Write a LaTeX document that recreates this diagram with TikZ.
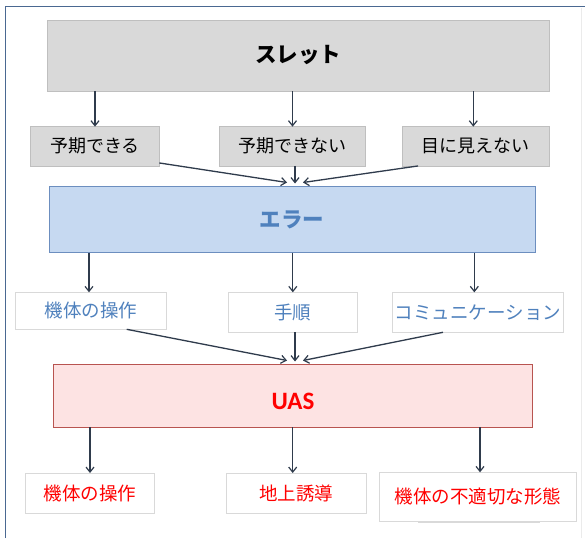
\documentclass[tikz,border=0pt]{standalone}
\usepackage{fontspec}
\setmainfont{Noto Sans CJK JP}
\newfontfamily\latinbold{Carlito}
\usetikzlibrary{arrows.meta,calc}
\definecolor{framec}{RGB}{74,104,145}
\definecolor{greyfill}{RGB}{217,217,217}
\definecolor{greyline}{RGB}{191,191,191}
\definecolor{bluefill}{RGB}{198,217,241}
\definecolor{blueline}{RGB}{108,142,191}
\definecolor{bluetext}{RGB}{79,129,189}
\definecolor{pinkfill}{RGB}{253,227,227}
\definecolor{pinkline}{RGB}{184,84,80}
\definecolor{redtext}{RGB}{255,0,0}
\definecolor{arrc}{RGB}{47,59,76}
\definecolor{boxline}{RGB}{217,217,217}
\begin{document}
\begin{tikzpicture}[x=1pt,y=-1pt,
  every node/.style={inner sep=0pt,outer sep=0pt},
  headbox/.style={draw=greyline,fill=greyfill,line width=0.8pt,font=\fontsize{21.5}{25}\selectfont\bfseries},
  greybox/.style={draw=greyline,fill=greyfill,line width=0.8pt,minimum height=39.3pt,font=\fontsize{18}{21}\selectfont},
  errbox/.style={draw=blueline,fill=bluefill,line width=0.9pt,text=bluetext,font=\fontsize{21.5}{25}\selectfont\bfseries},
  bluebox/.style={draw=boxline,fill=white,line width=0.8pt,text=bluetext,font=\fontsize{18.5}{22}\selectfont},
  uasbox/.style={draw=pinkline,fill=pinkfill,line width=0.9pt,text=redtext,font=\latinbold\fontsize{25}{28}\selectfont\bfseries},
  redbox/.style={draw=boxline,fill=white,line width=0.8pt,text=redtext,font=\fontsize{18.5}{22}\selectfont},
  arr/.style={draw=arrc,line width=1.3pt,-{Straight Barb[length=5pt,width=8pt,line width=1.2pt]}}]
\useasboundingbox (0,0) rectangle (585,538);
\fill[white] (0,0) rectangle (585,538);
% frame
\draw[framec,line width=1.4pt] (5.7,538) -- (5.7,6.7) -- (585,6.7);
\draw[black!8,line width=0.8pt] (581,8) -- (581,538);
% nodes
\node[headbox,minimum width=501.7pt,minimum height=71pt] (slet) at (298.2,55.5) {スレット};
\node[greybox,minimum width=128.6pt] (a1) at (95,146.3) {予期できる};
\node[greybox,minimum width=146.4pt] (a2) at (292.5,146.3) {予期できない};
\node[greybox,minimum width=146.7pt] (a3) at (475.7,146.3) {目に見えない};
\node[errbox,minimum width=485.7pt,minimum height=66pt] (err) at (292.2,219.7) {エラー};
\node[bluebox,minimum width=151.4pt,minimum height=37pt] (b1) at (91,310.8) {機体の操作};
\node[bluebox,minimum width=129pt,minimum height=40pt] (b2) at (292.8,312.3) {手順};
\node[bluebox,minimum width=170.6pt,minimum height=40pt] (b3) at (478,312.3) {コミュニケーション};
\node[uasbox,minimum width=479.4pt,minimum height=63.3pt] (uas) at (293,395.7) {\raisebox{-13.5pt}[0pt][0pt]{UAS}};
\node[redbox,minimum width=128.6pt,minimum height=40pt] (c1) at (90,493) {機体の操作};
\node[redbox,minimum width=139.3pt,minimum height=40pt] (c2) at (296.3,493) {地上誘導};
\draw[boxline,line width=0.8pt] (418,522.5) -- (540,522.5);
\node[redbox,minimum width=197.7pt,minimum height=49pt] (c3) at (477.8,496.8) {機体の不適切な形態};
% arrows slet -> row 1
\draw[arr] (slet.south -| a1.north) -- (a1.north);
\draw[arr] (slet.south -| a2.north) -- (a2.north);
\draw[arr] ($(slet.south -| a3.north)+(-2.4,0)$) -- ($(a3.north)+(-2.4,0)$);
% converging to error
\coordinate (t1) at (287,182.5);
\coordinate (t2) at (295,183.5);
\coordinate (t3) at (303,182.5);
\draw[arr] ($(a1.south east)+(0,-3)$) -- (t1);
\draw[arr] ($(a2.south)+(2.5,0)$) -- (t2);
\draw[arr] ($(a3.south west)+(15.7,0)$) -- (t3);
% error -> row 2
\draw[arr] ($(err.south -| b1.north)+(-2,0)$) -- ($(b1.north)+(-2,0)$);
\draw[arr] (err.south -| b2.north) -- (b2.north);
\draw[arr] ($(err.south -| b3.north)+(-3.7,0)$) -- ($(b3.north)+(-3.7,0)$);
% converging to UAS
\coordinate (u1) at (287,360.5);
\coordinate (u2) at (295,361.5);
\coordinate (u3) at (303,360.5);
\draw[arr] ($(b1.south west)+(111.4,0)$) -- (u1);
\draw[arr] ($(b2.south)+(2.2,0)$) -- (u2);
\draw[arr] ($(b3.south west)+(50.3,0)$) -- (u3);
% UAS -> row 3
\draw[arr] (uas.south -| c1.north) -- (c1.north);
\draw[arr] ($(uas.south -| c2.north)+(-3.6,0)$) -- ($(c2.north)+(-3.6,0)$);
\draw[arr] ($(uas.south -| c3.north)+(2.2,0)$) -- ($(c3.north)+(2.2,0)$);
\end{tikzpicture}
\end{document}
